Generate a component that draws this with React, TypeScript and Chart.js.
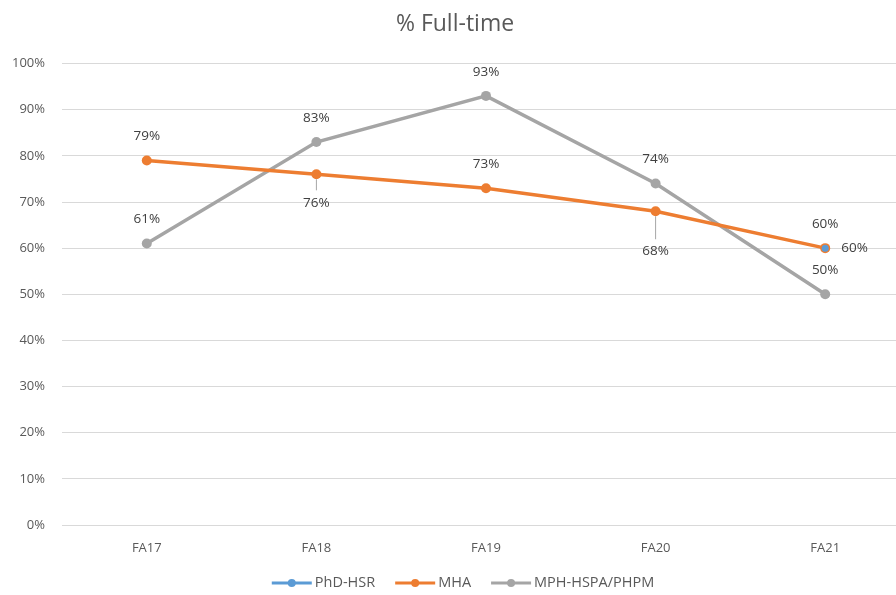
import React, { useEffect, useRef } from "react";
import { Chart, registerables } from "chart.js";

Chart.register(...registerables);

const categories = ["FA17", "FA18", "FA19", "FA20", "FA21"];
const phdValues = [null, null, null, null, 60];
const mhaValues = [79, 76, 73, 68, 60];
const mphValues = [61, 83, 93, 74, 50];
const yTicks = [0, 10, 20, 30, 40, 50, 60, 70, 80, 90, 100];

// label placement for each point
const phdLabelPos = ["", "", "", "", "above"];
const mhaLabelPos = ["above", "below", "above", "belowFar", "right"];
const mphLabelPos = ["above", "above", "above", "above", "above"];

const FONT = "'Open Sans', 'Noto Sans', sans-serif";

const labelPlugin = {
  id: "pointLabels",
  afterDatasetsDraw(chart: any) {
    const ctx = chart.ctx;
    ctx.save();
    ctx.font = `13.5px ${FONT}`;
    ctx.fillStyle = "#404040";
    ctx.textBaseline = "middle";
    chart.data.datasets.forEach((ds: any, di: number) => {
      const meta = chart.getDatasetMeta(di);
      const pos: string[] = ds.labelPos;
      meta.data.forEach((pt: any, i: number) => {
        const v = ds.data[i];
        if (v === null || v === undefined || !pos[i]) return;
        const text = `${v}%`;
        let x = pt.x;
        let y = pt.y;
        ctx.textAlign = "center";
        if (pos[i] === "above") {
          y = pt.y - 24;
        } else if (pos[i] === "below") {
          y = pt.y + 29;
          ctx.strokeStyle = "#a6a6a6";
          ctx.lineWidth = 1;
          ctx.beginPath();
          ctx.moveTo(pt.x, pt.y + 5);
          ctx.lineTo(pt.x, pt.y + 16);
          ctx.stroke();
        } else if (pos[i] === "belowFar") {
          y = pt.y + 40;
          ctx.strokeStyle = "#a6a6a6";
          ctx.lineWidth = 1;
          ctx.beginPath();
          ctx.moveTo(pt.x, pt.y + 5);
          ctx.lineTo(pt.x, pt.y + 28);
          ctx.stroke();
        } else if (pos[i] === "right") {
          ctx.textAlign = "left";
          x = pt.x + 16;
        }
        ctx.fillText(text, x, y);
      });
    });
    ctx.restore();
  },
};

// custom legend: line with marker, then text, centred under the chart
const legendPlugin = {
  id: "lineLegend",
  afterDraw(chart: any) {
    const ctx = chart.ctx;
    ctx.save();
    ctx.font = `14.5px ${FONT}`;
    ctx.textBaseline = "middle";
    const lineLen = 40;
    const gapText = 3;
    const gapItem = 20;
    const items = chart.data.datasets.map((ds: any) => ({
      label: ds.label,
      color: ds.borderColor,
      w: lineLen + gapText + ctx.measureText(ds.label).width,
    }));
    const total = items.reduce((s: number, it: any) => s + it.w, 0) + gapItem * (items.length - 1);
    let x = chart.width / 2 - total / 2;
    const y = chart.height - 12;
    items.forEach((it: any) => {
      ctx.strokeStyle = it.color;
      ctx.lineWidth = 3;
      ctx.beginPath();
      ctx.moveTo(x, y);
      ctx.lineTo(x + lineLen, y);
      ctx.stroke();
      ctx.fillStyle = it.color;
      ctx.beginPath();
      ctx.arc(x + lineLen / 2, y, 4, 0, Math.PI * 2);
      ctx.fill();
      ctx.fillStyle = "#595959";
      ctx.textAlign = "left";
      ctx.fillText(it.label, x + lineLen + gapText, y);
      x += it.w + gapItem;
    });
    ctx.restore();
  },
};

export default function App() {
  const ref = useRef<HTMLCanvasElement>(null);
  useEffect(() => {
    document.body.style.margin = "0";
    const colors = ["#5B9BD5", "#ED7D31", "#A5A5A5"];
    const chart = new Chart(ref.current!, {
      type: "line",
      data: {
        labels: categories,
        datasets: [
          {
            label: "PhD-HSR",
            data: phdValues,
            borderColor: colors[0],
            backgroundColor: colors[0],
            borderWidth: 3,
            pointRadius: 3.5,
            pointBorderWidth: 0,
            labelPos: phdLabelPos,
          } as any,
          {
            label: "MHA",
            data: mhaValues,
            borderColor: colors[1],
            backgroundColor: colors[1],
            borderWidth: 3.5,
            pointRadius: 5,
            pointBorderWidth: 0,
            labelPos: mhaLabelPos,
          } as any,
          {
            label: "MPH-HSPA/PHPM",
            data: mphValues,
            borderColor: colors[2],
            backgroundColor: colors[2],
            borderWidth: 3.5,
            pointRadius: 5,
            pointBorderWidth: 0,
            labelPos: mphLabelPos,
          } as any,
        ],
      },
      options: {
        animation: false,
        responsive: false,
        layout: { padding: { left: 0, right: 16, top: 11, bottom: 36 } },
        plugins: {
          title: {
            display: true,
            text: "% Full-time",
            color: "#595959",
            font: { family: FONT, size: 23, weight: "normal" },
            padding: { top: 0, bottom: 25 },
          },
          legend: { display: false },
          tooltip: { enabled: false },
        },
        scales: {
          x: {
            offset: true,
            afterFit: (s: any) => {
              s.height = 34;
            },
            grid: { display: false, drawTicks: false },
            border: { display: true, color: "#d9d9d9" },
            ticks: {
              color: "#595959",
              font: { family: FONT, size: 13 },
              padding: 15,
            },
          },
          y: {
            min: 0,
            max: 100,
            afterFit: (s: any) => {
              s.width = 62;
            },
            afterBuildTicks: (s: any) => {
              s.ticks = yTicks.map((v) => ({ value: v }));
            },
            grid: { color: "#d9d9d9", drawTicks: false },
            border: { display: false },
            ticks: {
              color: "#595959",
              font: { family: FONT, size: 13 },
              padding: 17,
              callback: (v: any) => `${v}%`,
            },
          },
        },
      },
      plugins: [labelPlugin, legendPlugin],
    });
    return () => chart.destroy();
  }, []);
  return (
    <div style={{ position: "fixed", left: 0, top: 0, width: 896, height: 595, overflow: "hidden", background: "#fff" }}>
      <canvas ref={ref} width={926} height={595} style={{ display: "block" }} />
    </div>
  );
}
